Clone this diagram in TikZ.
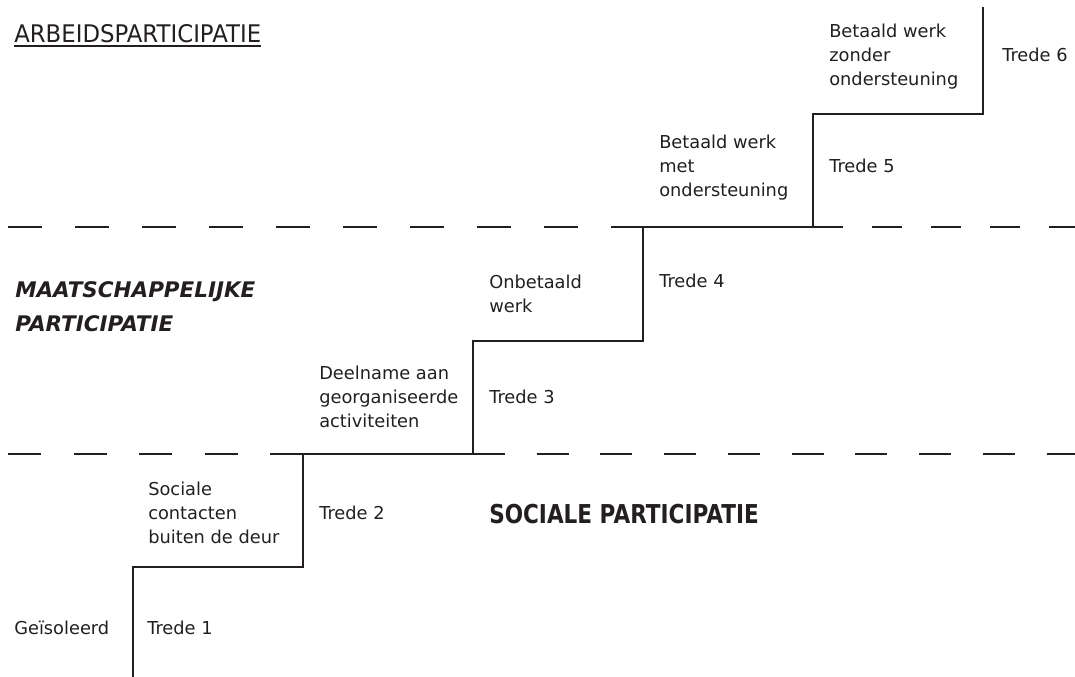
\documentclass[tikz,border=0pt]{standalone}
\usepackage{fontspec}
\setmainfont{DejaVu Sans}
\newfontfamily\widefont[FakeStretch=0.94]{DejaVu Sans}
\newfontfamily\boldfont[FakeStretch=0.83]{DejaVu Sans}
\definecolor{ink}{HTML}{231F20}
\tikzset{
  stair/.style={ink, line width=2.2pt},
  txt/.style={anchor=base west, inner sep=0pt, align=left, text=ink,
    font=\fontsize{13.35}{18}\selectfont},
}
\begin{document}
\begin{tikzpicture}[x=0.75pt,y=-0.75pt]
\useasboundingbox (0,0) rectangle (1075,677);

% corners of the stairs
\coordinate (s0)  at (133,677);
\coordinate (c1)  at (133,567);
\coordinate (c2)  at (303,567);
\coordinate (c3)  at (303,454);
\coordinate (c4)  at (473,454);
\coordinate (c5)  at (473,341);
\coordinate (c6)  at (643,341);
\coordinate (c7)  at (643,227);
\coordinate (c8)  at (813,227);
\coordinate (c9)  at (813,114);
\coordinate (c10) at (983,114);
\coordinate (c11) at (983,7);

% ends of the dashed lines
\coordinate (dA0) at (8,227);
\coordinate (dA1) at (1075,227);
\coordinate (dB0) at (8,454);
\coordinate (dB1) at (1075,454);

\draw[stair] (s0) -- (c1) -- (c2) -- (c3) -- (c4) -- (c5) -- (c6)
  -- (c7) -- (c8) -- (c9) -- (c10) -- (c11);

\draw[stair, dash pattern=on 25.5pt off 24.75pt] (dA0) -- (c7);
\draw[stair, dash pattern=on 22.5pt off 21.75pt] (c8) -- (dA1);
\draw[stair, dash pattern=on 24.75pt off 24.4pt] (dB0) -- (c3);
\draw[stair, dash pattern=on 24pt off 23.8pt] (c4) -- (dB1);

% levels (multi-line nodes sit on their last line)
\node[txt, font=\widefont\fontsize{18.2}{22}\selectfont] (arb) at (14,43) {ARBEIDSPARTICIPATIE};
\draw[ink, line width=1.1pt] ([yshift=-2.4pt]arb.base west) -- ([yshift=-2.4pt]arb.base east);
\node[txt, font=\bfseries\itshape\fontsize{16.1}{25.5}\selectfont] (maat) at (15,332) {MAATSCHAPPELIJKE\\PARTICIPATIE};
\node[txt, font=\boldfont\bfseries\fontsize{19.5}{24}\selectfont] (socp) at (489,523) {SOCIALE PARTICIPATIE};

% steps
\node[txt] (isol) at (14,634) {Geïsoleerd};
\node[txt] (tr1) at (147,634) {Trede 1};
\node[txt] (soc) at (148,543) {Sociale\\contacten\\buiten de deur};
\node[txt] (tr2) at (319,519) {Trede 2};
\node[txt] (deel) at (319,427) {Deelname aan\\georganiseerde\\activiteiten};
\node[txt] (tr3) at (489,403) {Trede 3};
\node[txt] (onb) at (489,313) {Onbetaald\\werk};
\node[txt] (tr4) at (659,288) {Trede 4};
\node[txt] (bmet) at (659,197) {Betaald werk\\met\\ondersteuning};
\node[txt] (tr5) at (829,173) {Trede 5};
\node[txt] (bzon) at (829,86) {Betaald werk\\zonder\\ondersteuning};
\node[txt] (tr6) at (1002,62) {Trede 6};
\end{tikzpicture}
\end{document}
